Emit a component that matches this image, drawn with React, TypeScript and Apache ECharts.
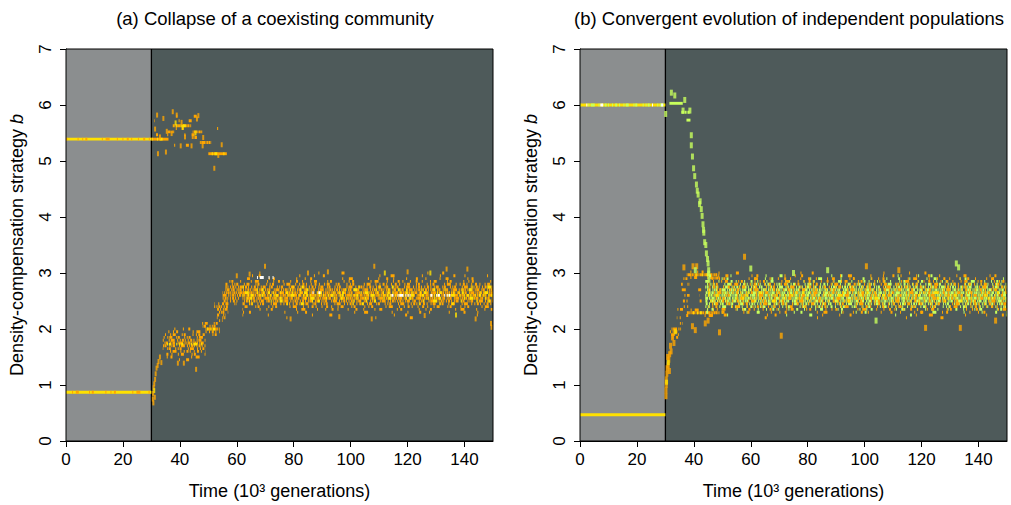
import React, { useEffect, useRef } from "react";
import * as echarts from "echarts";

// ---------- data ----------
const TITLES = ["(a) Collapse of a coexisting community", "(b) Convergent evolution of independent populations"];
const X_NAME = "Time (10³ generations)";
const Y_NAME = "Density-compensation strategy {i|b}";

// phases: [start, end, kind] kind 0 = before invasion, 1 = after
const PHASES = [[0, 30, 0], [30, 150, 1]];

// rows: [t0, t1, b, density(0..1), colour] colour: 0 orange, 1 yellow, 2 white, 3 green
const ROWS_A = [
  [0, 30, 5.39, 1, 1], [0, 30, 5.39, 0.22, 0], [0, 30, 0.87, 1, 1], [0, 30, 0.87, 0.2, 0],
  [30, 36, 5.39, 1, 0], [30, 36, 5.39, 0.3, 1],
  [35.5, 38, 5.52, 0.8, 0], [37.5, 44, 5.63, 0.9, 0], [38, 43, 5.63, 0.35, 1],
  [44.5, 48, 5.52, 0.9, 0], [44, 46, 5.42, 0.8, 0], [47, 51, 5.33, 0.9, 0],
  [50, 56.5, 5.13, 1, 0], [51, 56, 5.13, 0.3, 1],
  [31, 52, 5.72, 0.07, 0], [31, 54, 5.58, 0.08, 0], [31, 52, 5.47, 0.1, 0], [31, 50, 5.28, 0.06, 0], [33, 48, 5.8, 0.04, 0],
  // rise
  [34, 46, 1.45, 0.1, 0], [34, 48, 1.5, 0.18, 0], [34, 49, 1.55, 0.25, 0], [34, 49, 1.6, 0.35, 0], [34, 49, 1.65, 0.4, 0],
  [34, 49, 1.7, 0.5, 0], [34, 49, 1.75, 0.6, 0], [35, 48, 1.73, 0.35, 1], [34, 49, 1.8, 0.45, 0], [34, 49, 1.85, 0.4, 0],
  [34, 49, 1.9, 0.3, 0], [34, 49, 1.95, 0.22, 0], [35, 47, 2.0, 0.12, 0],
  [48, 53, 1.9, 0.25, 0], [49, 54, 1.95, 0.4, 0], [49, 54, 2.0, 0.7, 0], [49, 53, 2.0, 0.3, 1], [48, 54, 2.05, 0.45, 0], [47, 54, 2.1, 0.3, 0],
  [52, 55, 2.15, 0.3, 0], [53, 56, 2.2, 0.35, 0], [53, 56, 2.25, 0.5, 0], [53, 57, 2.3, 0.55, 0], [53, 57, 2.35, 0.5, 0],
  [52, 57, 2.4, 0.5, 0], [52, 57, 2.45, 0.3, 0],
  [56, 60, 2.45, 0.3, 0], [55, 61, 2.5, 0.4, 0], [55, 61, 2.55, 0.5, 0], [55, 62, 2.6, 0.55, 0], [55, 62, 2.65, 0.65, 0],
  [56, 62, 2.7, 0.6, 0], [56, 62, 2.75, 0.5, 0], [56, 62, 2.8, 0.4, 0], [56, 62, 2.85, 0.3, 0],
  // plateau
  [62, 150, 3.0, 0.03, 0], [62, 150, 2.95, 0.07, 0], [62, 150, 2.9, 0.12, 0], [62, 150, 2.85, 0.2, 0], [62, 150, 2.8, 0.3, 0],
  [62, 150, 2.75, 0.42, 0], [62, 150, 2.7, 0.55, 0], [62, 150, 2.65, 0.65, 0], [62, 150, 2.6, 0.7, 0], [62, 150, 2.55, 0.65, 0],
  [62, 150, 2.5, 0.5, 0], [62, 150, 2.45, 0.38, 0], [62, 150, 2.4, 0.25, 0], [62, 150, 2.35, 0.15, 0], [62, 150, 2.3, 0.08, 0],
  [62, 150, 2.25, 0.04, 0], [62, 150, 2.2, 0.02, 0],
  [62, 150, 2.6, 0.3, 1], [62, 150, 2.55, 0.15, 1], [62, 150, 2.65, 0.2, 1], [62, 150, 2.5, 0.08, 1], [62, 150, 2.7, 0.1, 1],
  [62, 150, 2.75, 0.05, 1], [62, 150, 2.45, 0.05, 1],
  [114, 121, 2.6, 0.5, 2], [128, 135, 2.6, 0.4, 2], [66, 73, 2.92, 0.3, 2], [85, 95, 2.65, 0.08, 2],
];

const ROWS_B = [
  [0, 30, 6.0, 1, 1], [0, 30, 6.0, 0.35, 3], [0, 30, 6.0, 0.05, 2], [0, 30, 0.47, 1, 1],
  [31.4, 36.1, 6.03, 1, 3], [35.6, 38.5, 5.87, 0.8, 3], [37.4, 38.8, 5.73, 1, 3],
  // rise
  [31.5, 35.5, 2.0, 0.6, 0], [31.5, 35, 1.95, 0.5, 0], [32, 35, 1.9, 0.4, 0], [32, 34.5, 1.85, 0.3, 0],
  [33, 36, 2.1, 0.3, 0], [34, 36, 2.2, 0.35, 0], [34, 37, 2.35, 0.3, 0],
  [35.5, 38, 2.4, 0.3, 0], [35.5, 38.5, 2.5, 0.3, 0], [35.5, 38.5, 2.6, 0.3, 0], [35.5, 38.5, 2.7, 0.35, 0],
  [35.5, 38.5, 2.8, 0.35, 0], [36, 38.5, 2.9, 0.3, 0],
  [37, 48, 2.24, 0.2, 0], [37.4, 49, 2.29, 0.85, 0], [38, 46, 2.29, 0.25, 1], [37, 48, 2.34, 0.2, 0],
  [37, 48, 2.92, 0.2, 0], [37.5, 48.5, 2.97, 0.85, 0], [38, 46, 2.97, 0.2, 1], [46, 49, 2.91, 0.8, 0], [37, 49, 3.02, 0.15, 0],
  [40, 47, 2.5, 0.1, 0], [40, 47, 2.7, 0.1, 0], [42, 47, 2.6, 0.1, 0],
  // band, green first
  [44, 150, 2.95, 0.05, 3], [44, 150, 2.9, 0.1, 3], [44, 150, 2.85, 0.18, 3], [44, 150, 2.8, 0.3, 3], [44, 150, 2.75, 0.45, 3],
  [44, 150, 2.7, 0.6, 3], [44, 150, 2.65, 0.7, 3], [44, 150, 2.6, 0.7, 3], [44, 150, 2.55, 0.7, 3], [44, 150, 2.5, 0.6, 3],
  [44, 150, 2.45, 0.45, 3], [44, 150, 2.4, 0.3, 3], [44, 150, 2.35, 0.15, 3], [44, 150, 2.3, 0.07, 3], [44, 150, 2.25, 0.03, 3],
  [45, 150, 3.0, 0.04, 0], [45, 150, 2.95, 0.1, 0], [45, 150, 2.9, 0.15, 0], [45, 150, 2.85, 0.2, 0], [45, 150, 2.8, 0.24, 0],
  [45, 150, 2.75, 0.25, 0], [45, 150, 2.7, 0.25, 0], [45, 150, 2.65, 0.25, 0], [45, 150, 2.6, 0.28, 0], [45, 150, 2.55, 0.25, 0],
  [45, 150, 2.5, 0.25, 0], [45, 150, 2.45, 0.25, 0], [45, 150, 2.4, 0.22, 0], [45, 150, 2.35, 0.17, 0], [45, 150, 2.3, 0.12, 0],
  [45, 150, 2.25, 0.06, 0], [45, 150, 2.2, 0.02, 0],
  [45, 150, 2.6, 0.1, 1], [45, 150, 2.55, 0.07, 1], [45, 150, 2.65, 0.07, 1], [45, 150, 2.5, 0.04, 1],
];

// specks: [t, b]
const SPECK_A_ORANGE = [
  [32, 5.82], [34.2, 5.76], [37.5, 5.88], [38.9, 5.82], [46.5, 5.81], [46, 5.75], [31.3, 5.57], [32.3, 5.13],
  [35.1, 5.16], [40.3, 5.27], [44.1, 5.27], [52.1, 4.87], [54.7, 5.29], [53.5, 5.1], [33, 5.43], [37.1, 5.49],
  [41.8, 5.43], [48.2, 5.42], [48, 5.27], [40.6, 5.69], [35.4, 5.53],
  [30.5, 0.75], [30.6, 0.85], [30.8, 0.95], [31, 1.02], [31.3, 1.1], [31.5, 1.2], [31.8, 1.3], [32.2, 1.35],
  [32.5, 1.42], [30.7, 0.68], [31.2, 0.78], [33.5, 1.4], [33, 1.5], [39.3, 1.39], [41.4, 1.39], [45.7, 1.28],
  [78.9, 2.18], [107.4, 2.18], [143.9, 2.18], [149.5, 2.03], [149.3, 2.1], [69.9, 3.12], [108.3, 3.12],
  [133.7, 3.07], [141, 3.07], [85, 3.0], [92, 3.02], [120, 3.02], [60, 2.95], [64.5, 2.98], [96, 2.22], [126, 2.24],
];
const SPECK_A_YELLOW = [[38.5, 5.68], [41, 5.6], [45.5, 5.5], [31, 0.9], [112, 3.0], [128, 3.0], [137, 2.25]];

const SPECK_B_ORANGE = [
  [30.2, 0.8], [30.2, 0.9], [30.3, 1.0], [30.3, 1.1], [30.5, 1.2], [30.6, 1.3], [31, 1.35], [31.2, 1.45],
  [31.5, 1.55], [30.8, 1.5], [32, 1.6], [31.8, 1.7], [32.5, 1.85], [33, 1.75], [31.4, 1.25],
  [70.7, 1.88], [49, 1.94], [133.6, 2.02], [121.4, 2.02], [57.8, 3.29], [100.6, 3.12], [39.7, 3.12],
  [41, 3.12], [36.5, 3.1], [39.5, 2.05], [40.5, 1.98], [44, 2.1], [45, 2.15], [112, 3.05], [146, 2.15],
];
const SPECK_B_YELLOW = [[30.4, 1.05], [31, 1.4], [33.5, 1.95]];
const SPECK_B_GREEN = [
  [32.1, 6.22], [33.3, 6.17], [36.8, 6.09], [30.1, 5.84], [36.2, 5.9], [38.6, 5.9],
  [39.1, 5.46], [39.1, 5.28], [39.5, 5.08], [39.9, 4.87], [40.3, 4.73], [40.9, 4.58], [41.2, 4.47], [41.5, 4.4],
  [42, 4.23], [42.2, 4.28], [42.6, 4.14], [42.9, 4.02], [43.2, 3.87], [43.4, 3.77], [43.5, 3.72], [43.8, 3.55],
  [44.2, 3.5], [44.4, 3.35], [44.8, 3.25], [45, 3.17], [45.2, 3.05], [45.2, 2.99], [45.3, 2.88],
  [132.2, 3.17], [133, 3.1], [40.5, 3.05], [60, 3.08], [87, 3.05], [75, 3.0], [104, 2.15],
];

// ---------- styling ----------
const COLORS = ["#FFA600", "#FFE100", "#FFFFFF", "#C8FF5C"];
const BG = ["#8B8E8F", "#4E5A5A"];
const FONT = "'Liberation Sans', Arial, Helvetica, sans-serif";
const ON = [1, 2, 1, 1, 3, 1, 2, 1, 1, 2, 1, 4, 1, 1, 2, 1];
const OFFM = [1.4, 0.6, 2.1, 0.8, 1.0, 0.5, 1.7, 1.2, 0.7, 2.4, 0.9, 0.6, 1.5, 1.1, 0.4, 1.9];

function dashFor(d: number) {
  const r = (1 - d) / d / 1.17;
  const out: number[] = [];
  ON.forEach((o, i) => { out.push(o, Math.max(0.4, o * r * OFFM[i])); });
  return out;
}

function bgRender(params: any, api: any) {
  const p0 = api.coord([api.value(0), 7]);
  const p1 = api.coord([api.value(1), 0]);
  const k = api.value(2);
  const children: any[] = [{
    type: "rect",
    shape: { x: p0[0], y: p0[1], width: p1[0] - p0[0], height: p1[1] - p0[1] },
    style: { fill: BG[k] },
  }];
  if (k === 1) {
    children.push({ type: "line", shape: { x1: p0[0], y1: p0[1], x2: p0[0], y2: p1[1] }, style: { stroke: "#000", lineWidth: 1.3 } });
  }
  return { type: "group", children, silent: true };
}

function rowRender(params: any, api: any) {
  const t0 = api.value(0), t1 = api.value(1), b = api.value(2), d = api.value(3), c = api.value(4);
  const p0 = api.coord([t0, b]);
  const p1 = api.coord([t1, b]);
  const style: any = { stroke: COLORS[c], lineWidth: 2.9, lineCap: "butt" };
  if (d < 1) {
    style.lineDash = dashFor(d);
    style.lineDashOffset = (params.dataIndex * 37) % 97;
  }
  return { type: "line", shape: { x1: p0[0], y1: p0[1], x2: p1[0], y2: p1[1] }, style, silent: true };
}

function panelSeries(gi: number, rows: number[][], specks: [number[][], number, number[]][]) {
  const s: any[] = [
    { type: "custom", xAxisIndex: gi, yAxisIndex: gi, renderItem: bgRender, data: PHASES, encode: { x: [0, 1], y: 2 }, z: 1, silent: true },
    { type: "custom", xAxisIndex: gi, yAxisIndex: gi, renderItem: rowRender, data: rows, encode: { x: [0, 1], y: 2 }, z: 2, silent: true },
  ];
  specks.forEach(([data, c, size]) => {
    s.push({ type: "scatter", xAxisIndex: gi, yAxisIndex: gi, data, symbol: "rect", symbolSize: size, itemStyle: { color: COLORS[c] }, z: 3, silent: true });
  });
  return s;
}

function axisPair(gi: number) {
  const common = { color: "#000", fontFamily: FONT };
  return {
    x: {
      gridIndex: gi, type: "value", min: 0, max: 150, interval: 20,
      axisLine: { show: true, lineStyle: { color: "#000", width: 1 } },
      axisTick: { show: true, inside: false, length: 6, lineStyle: { color: "#000" } },
      axisLabel: { ...common, fontSize: 17, margin: 10, showMaxLabel: false },
      splitLine: { show: false },
      name: X_NAME, nameLocation: "middle", nameGap: 41,
      nameTextStyle: { ...common, fontSize: 18 },
    },
    y: {
      gridIndex: gi, type: "value", min: 0, max: 7, interval: 1,
      axisLine: { show: true, lineStyle: { color: "#000", width: 1 } },
      axisTick: { show: true, inside: false, length: 6, lineStyle: { color: "#000" } },
      axisLabel: { ...common, fontSize: 17, margin: 12, rotate: 90 },
      splitLine: { show: false },
      name: Y_NAME, nameLocation: "middle", nameGap: 40, nameRotate: 90,
      nameTextStyle: { ...common, fontSize: 18, rich: { i: { fontStyle: "italic", fontSize: 18, fontFamily: FONT, color: "#000" } } },
    },
  };
}

export default function App() {
  const ref = useRef<HTMLDivElement>(null);
  useEffect(() => {
    document.body.style.margin = "0";
    const chart = echarts.init(ref.current!, null, { renderer: "svg" });
    const a0 = axisPair(0), a1 = axisPair(1);
    chart.setOption({
      animation: false,
      backgroundColor: "#fff",
      graphic: [
        { type: "text", x: 275, y: 18, style: { text: TITLES[0], align: "center", verticalAlign: "middle", font: `18.5px ${FONT}`, fill: "#000" } },
        { type: "text", x: 789, y: 18, style: { text: TITLES[1], align: "center", verticalAlign: "middle", font: `18.5px ${FONT}`, fill: "#000" } },
      ],
      grid: [
        { left: 66, top: 49, width: 427, height: 398, show: true, borderColor: "#000", borderWidth: 1, backgroundColor: "transparent", z: 10 },
        { left: 580, top: 49, width: 427, height: 398, show: true, borderColor: "#000", borderWidth: 1, backgroundColor: "transparent", z: 10 },
      ],
      xAxis: [a0.x, a1.x],
      yAxis: [a0.y, a1.y],
      series: [
        ...panelSeries(0, ROWS_A, [[SPECK_A_ORANGE, 0, [2, 5]], [SPECK_A_YELLOW, 1, [2, 5]]]),
        ...panelSeries(1, ROWS_B, [[SPECK_B_ORANGE, 0, [3, 6]], [SPECK_B_YELLOW, 1, [3, 5]], [SPECK_B_GREEN, 3, [3, 6]]]),
      ],
    });
    return () => chart.dispose();
  }, []);
  return <div ref={ref} style={{ width: 1011, height: 505 }} />;
}
